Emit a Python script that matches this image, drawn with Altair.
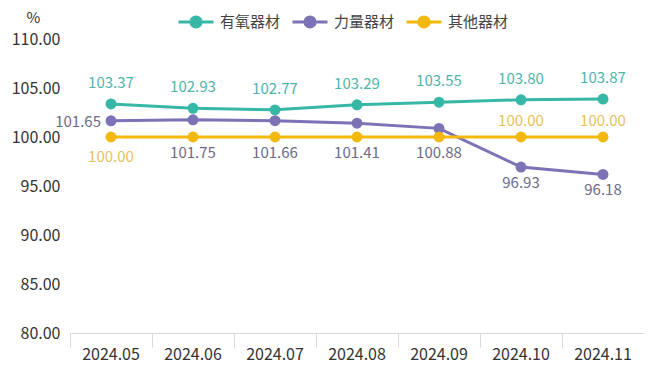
import altair as alt
import pandas as pd

# ---- data ----
months = ["2024.05", "2024.06", "2024.07", "2024.08", "2024.09", "2024.10", "2024.11"]
series_names = ["有氧器材", "力量器材", "其他器材"]
aerobic = [103.37, 102.93, 102.77, 103.29, 103.55, 103.80, 103.87]
strength = [101.65, 101.75, 101.66, 101.41, 100.88, 96.93, 96.18]
other = [100.00, 100.00, 100.00, 100.00, 100.00, 100.00, 100.00]
y_ticks = [80, 85, 90, 95, 100, 105, 110]

# label placement per point (layout, not data)
aerobic_label = ["above"] * 7
strength_label = ["left", "below", "below", "below", "below", "below", "below"]
other_label = ["below", "none", "none", "none", "none", "above", "above"]

colors = ["#37B8A7", "#7B73B6", "#F2B80C"]
label_colors = ["#4DB5AA", "#6D6A88", "#E7C25C"]
FONT = "Noto Sans CJK SC"

rows = []
for name, vals, labs in zip(series_names, [aerobic, strength, other],
                            [aerobic_label, strength_label, other_label]):
    for i, (m, v, lab) in enumerate(zip(months, vals, labs)):
        anchor = v
        if name == "力量器材" and lab == "below":
            anchor = min(v, other[i])
        rows.append({"month": m, "series": name, "value": v, "pos": lab,
                     "anchor": anchor, "text": f"{v:.2f}"})
df = pd.DataFrame(rows)

sym = ("M-1,0L1,0"
       "M-0.29,0A0.29,0.29,0,1,0,0.29,0A0.29,0.29,0,1,0,-0.29,0"
       "M-0.15,0A0.15,0.15,0,1,0,0.15,0A0.15,0.15,0,1,0,-0.15,0"
       "M-0.05,0A0.05,0.05,0,1,0,0.05,0A0.05,0.05,0,1,0,-0.05,0")

xenc = alt.X("month:N", sort=months, bandPosition=0.5,
             scale=alt.Scale(type="band", paddingInner=0, paddingOuter=0),
             axis=alt.Axis(title=None, bandPosition=0, tickSize=14, tickColor="#D9D9D9",
                           domainColor="#D9D9D9", domainWidth=1, labelAngle=0,
                           labelFontSize=16, labelColor="#333333", labelPadding=-1,
                           labelFont=FONT, grid=False))
yscale = alt.Scale(domain=[80, 110], nice=False, zero=False)
yaxis = alt.Axis(values=y_ticks, format=".2f", grid=False, domain=False, ticks=False,
                 labelFontSize=16, labelColor="#333333", labelPadding=10, labelFont=FONT,
                 title="%", titleAngle=0, titleX=-37, titleY=-22, titleAlign="center",
                 titleBaseline="middle", titleFontSize=15, titleFontWeight="normal",
                 titleColor="#333333", titleFont=FONT)

color_scale = alt.Scale(domain=series_names, range=colors)

base = alt.Chart(df)

lines = base.mark_line(strokeWidth=3).encode(
    x=xenc,
    y=alt.Y("value:Q", scale=yscale, axis=yaxis),
    color=alt.Color("series:N", scale=color_scale, sort=series_names,
                    legend=alt.Legend(title=None, orient="none", direction="horizontal",
                                      legendX=107, legendY=-36.5, symbolType=sym,
                                      symbolSize=1225, symbolStrokeWidth=3,
                                      labelFontSize=15, labelColor="#444444",
                                      labelFont=FONT, labelOffset=5, columnPadding=5,
                                      padding=0)),
    order=alt.value(0),
)

points = base.mark_circle(size=120, opacity=1).encode(
    x=alt.X("month:N", sort=months, bandPosition=0.5),
    y=alt.Y("value:Q", scale=yscale),
    color=alt.Color("series:N", scale=color_scale, legend=None),
)

layers = [lines, points]

def text_layer(series, pos, color, **kw):
    return base.transform_filter(
        (alt.datum.series == series) & (alt.datum.pos == pos)
    ).mark_text(fontSize=15, font=FONT, color=color, **kw).encode(
        x=alt.X("month:N", sort=months, bandPosition=0.5),
        y=alt.Y("anchor:Q", scale=yscale),
        text="text:N",
    )

layers += [
    text_layer(series_names[0], "above", label_colors[0], dy=-21),
    text_layer(series_names[1], "left", label_colors[1], align="right", dx=-10, dy=1),
    text_layer(series_names[1], "below", label_colors[1], dy=16),
    text_layer(series_names[2], "below", label_colors[2], dy=20),
    text_layer(series_names[2], "above", label_colors[2], dy=-16),
]

chart = alt.layer(*layers).properties(
    width=574, height=294,
    padding={"left": 70, "top": 39, "right": 16, "bottom": 43},
    autosize=alt.AutoSizeParams(type="none"),
    background="white",
).configure_view(stroke=None)

chart.save("out.html", embed_options={"renderer": "svg", "actions": False})
